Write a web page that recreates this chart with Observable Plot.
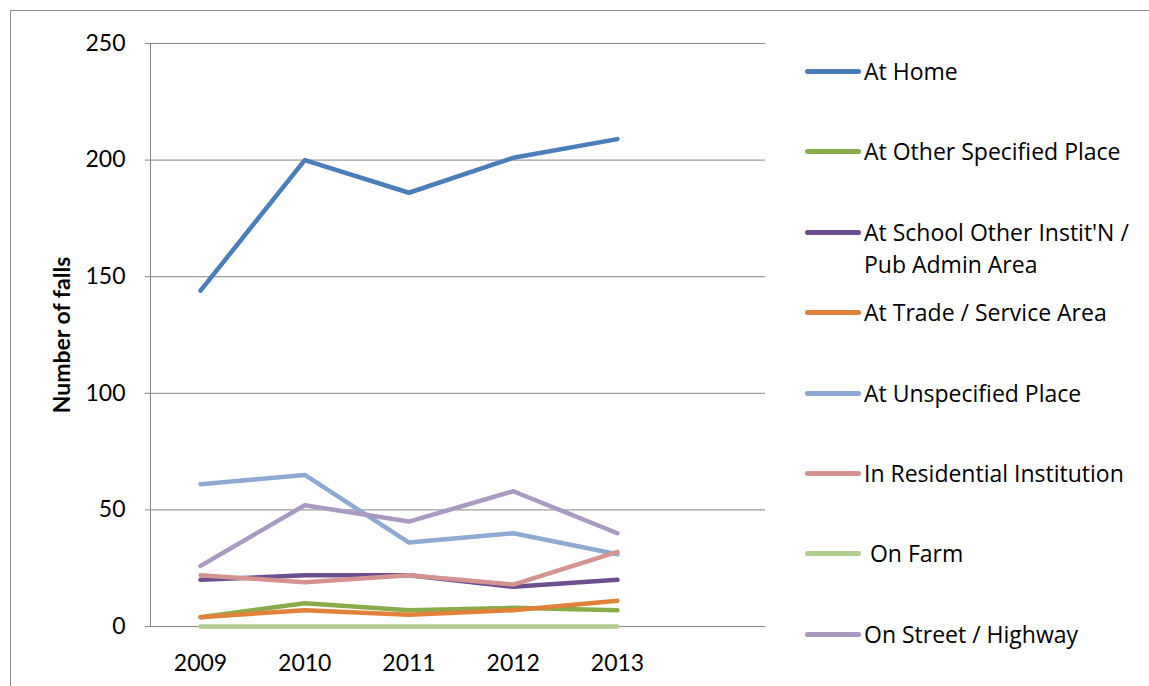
<!DOCTYPE html>
<html>
<head>
<meta charset="utf-8">
<script src="https://cdn.jsdelivr.net/npm/d3@7"></script>
<script src="https://cdn.jsdelivr.net/npm/@observablehq/plot@0.6"></script>
<style>
  html, body { margin: 0; padding: 0; background: #fff; }
  #wrap { position: relative; width: 1149px; height: 686px; overflow: hidden; background: #fff; }
  #frame { position: absolute; left: 10px; top: 10px; width: 1200px; height: 720px; border: 1px solid #8c8c8c; box-sizing: border-box; }
  #chart { position: absolute; left: 0; top: 0; }
  #legend { position: absolute; left: 805px; top: 55px; font-family: "Open Sans", sans-serif; font-size: 23px; color: #000; }
  .item { display: flex; align-items: flex-start; height: 80.4px; }
  .sw { width: 56px; height: 5px; border-radius: 3px; margin-top: 14px; margin-right: 3px; flex: none; }
  .lb { line-height: 32px; width: 282px; white-space: pre-wrap; }
</style>
</head>
<body>
<div id="wrap">
  <div id="frame"></div>
  <div id="chart"></div>
  <div id="legend"></div>
</div>
<script>
const years = [2009, 2010, 2011, 2012, 2013];
const seriesNames = [
  "At Home",
  "At Other Specified Place",
  "At School Other Instit'N / Pub Admin Area",
  "At Trade / Service Area",
  "At Unspecified Place",
  "In Residential Institution",
  " On Farm",
  "On Street / Highway"
];
const atHome        = [144, 200, 186, 201, 209];
const atOther       = [4, 10, 7, 8, 7];
const atSchool      = [20, 22, 22, 17, 20];
const atTrade       = [4, 7, 5, 7, 11];
const atUnspecified = [61, 65, 36, 40, 31];
const inResidential = [22, 19, 22, 18, 32];
const onFarm        = [0, 0, 0, 0, 0];
const onStreet      = [26, 52, 45, 58, 40];
const seriesColors = ["#4a7ebb", "#8aab4a", "#6b4f91", "#e0823a", "#8ea9d3", "#d49390", "#b3cd91", "#a89ac0"];
const yTicks = [0, 50, 100, 150, 200, 250];

const valueLists = [atHome, atOther, atSchool, atTrade, atUnspecified, inResidential, onFarm, onStreet];
const data = [];
seriesNames.forEach((s, i) => years.forEach((yr, j) => data.push({series: s, year: yr, value: valueLists[i][j]})));

const xDomain = [2008.52, 2014.42];

const chart = Plot.plot({
  width: 780,
  height: 686,
  marginLeft: 150,
  marginRight: 15,
  marginTop: 43,
  marginBottom: 60,
  style: { fontFamily: "Lato, sans-serif", fontSize: "23px", color: "#000", background: "transparent" },
  x: { type: "linear", domain: xDomain },
  y: { domain: [0, 250] },
  color: { domain: seriesNames, range: seriesColors },
  marks: [
    Plot.ruleY(yTicks, { y: d => d, stroke: "#868686", strokeWidth: 1 }),
    Plot.ruleX([xDomain[0]], { stroke: "#868686", strokeWidth: 1 }),
    Plot.axisY({ ticks: yTicks, tickSize: 5, tickPadding: 20, stroke: "#868686", fill: "#000", fontSize: 23, label: null }),
    Plot.axisX({ ticks: years, tickFormat: d => String(d), tickSize: 0, tickPadding: 28, fill: "#000", fontSize: 23, label: null }),
    Plot.text(["Number of falls"], { frameAnchor: "left", textAnchor: "middle", text: d => d, rotate: -90, dx: -88, fontWeight: "bold", fontSize: 23, fill: "#000" }),
    Plot.line(data, { x: "year", y: "value", z: "series", stroke: "series", strokeWidth: 4.5, strokeLinecap: "round", strokeLinejoin: "round" })
  ]
});
document.getElementById("chart").appendChild(chart);

const legend = document.getElementById("legend");
seriesNames.forEach((s, i) => {
  const row = document.createElement("div");
  row.className = "item";
  const sw = document.createElement("div");
  sw.className = "sw";
  sw.style.background = seriesColors[i];
  const lb = document.createElement("div");
  lb.className = "lb";
  lb.textContent = s;
  row.appendChild(sw);
  row.appendChild(lb);
  legend.appendChild(row);
});
</script>
</body>
</html>
